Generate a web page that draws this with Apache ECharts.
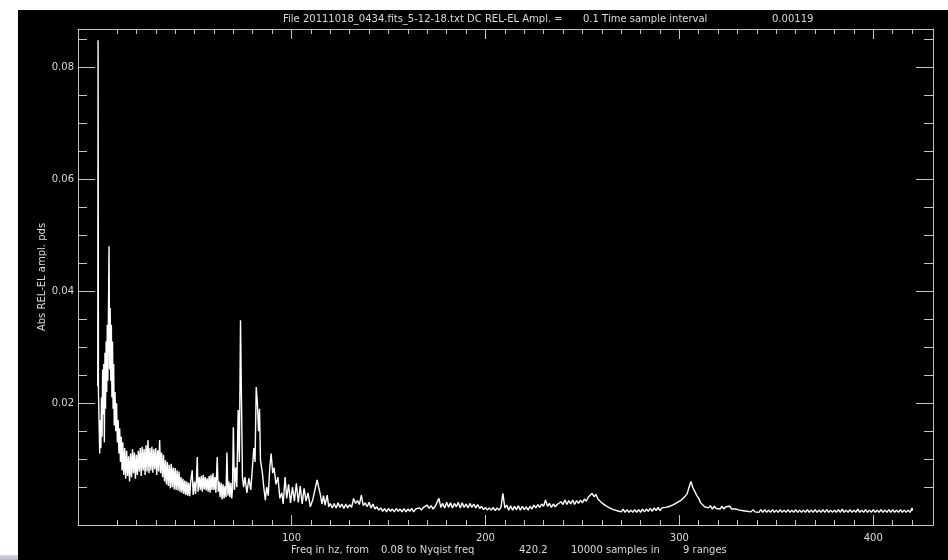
<!DOCTYPE html>
<html>
<head>
<meta charset="utf-8">
<script src="https://cdn.jsdelivr.net/npm/echarts@6/dist/echarts.min.js"></script>
<style>
  html, body { margin: 0; padding: 0; background: #ffffff; }
  #wrap { position: relative; width: 948px; height: 560px; overflow: hidden; background: #ffffff; }
  #panel { position: absolute; left: 18px; top: 10px; width: 930px; height: 550px; background: #000000; }
  #strip { position: absolute; left: 0; top: 555px; width: 18px; height: 5px; background: linear-gradient(#d4d4e2, #b8b8cc); }
  #chart { position: absolute; left: 0; top: 0; width: 948px; height: 560px; }
</style>
</head>
<body>
<div id="wrap">
  <div id="panel"></div>
  <div id="strip"></div>
  <div id="chart"></div>
</div>
<script>
// Amplitude spectrum, 0.08 Hz to the Nyquist frequency (420.2 Hz).
// Low band: the DC spike and the broad 6 Hz hump.
const freqLow = [0.08, 0.25, 0.45, 0.8, 1.1, 1.4, 1.7, 2.0, 2.3, 2.6, 2.9, 3.2, 3.5, 3.8, 4.1, 4.4, 4.7, 5.0, 5.3, 5.6,
  5.9, 6.2, 6.5, 6.8, 7.1, 7.4, 7.7, 8.0, 8.3, 8.6, 9.0, 9.4, 9.8, 10.2, 10.6, 11.0, 11.4, 11.8, 12.2, 12.6,
  13.0, 13.5, 14.0, 14.5];
const ampLow = [0.023, 0.0848, 0.022, 0.016, 0.011, 0.017, 0.012, 0.021, 0.014, 0.026, 0.018, 0.027, 0.013, 0.029, 0.019, 0.031, 0.022, 0.034, 0.024, 0.036,
  0.048, 0.026, 0.037, 0.024, 0.034, 0.021, 0.031, 0.019, 0.027, 0.016, 0.022, 0.015, 0.020, 0.013, 0.017, 0.011, 0.0155, 0.0095, 0.014, 0.008,
  0.013, 0.0072, 0.012, 0.0065];

// Mid band: noisy shelf out to 70 Hz, then resonance lines around 70-90 Hz.
const freqMid = [15, 15.5, 16, 16.5, 17, 17.5, 18, 18.5, 19, 19.5, 20, 20.5, 21, 21.5, 22, 22.5, 23, 23.5, 24, 24.5,
  25, 25.5, 26, 26.5, 27, 27.5, 28, 28.5, 29, 29.5, 30, 30.5, 31, 31.5, 32, 32.5, 33, 33.5, 34, 34.5,
  35, 35.5, 36, 36.5, 37, 37.5, 38, 38.5, 39, 39.5, 40, 40.5, 41, 41.5, 42, 42.5, 43, 43.5, 44, 44.5,
  45, 45.5, 46, 46.5, 47, 47.5, 48, 48.8, 49.3, 50, 50.5, 51, 51.4, 51.8, 52.5, 53, 53.5, 54, 54.5, 55,
  55.5, 56, 56.5, 57, 57.5, 58, 58.5, 59, 59.5, 60, 60.5, 61, 61.7, 62.2, 62.7, 63.2, 63.7, 64.2, 64.7, 65.2,
  65.7, 66.2, 66.7, 67.2, 67.7, 68.2, 68.7, 69.2, 69.6, 70, 70.6,
  71.2, 71.8, 72.5, 73.1, 73.7, 74.2, 74.7, 75.3, 76, 77, 78, 79, 80, 80.6, 81.2, 81.8, 82.4, 83, 83.5, 84,
  85, 85.7, 86.5, 87.2, 88, 88.8, 89.5, 90.3, 91, 92, 93, 94, 95, 95.7, 96.7, 97.5, 98.5, 99.5, 100.5, 101.5,
  102.5, 103.5, 104.5, 105.5, 106.5, 107.5, 108.5, 109.7, 111, 112, 113.2, 114, 114.8, 115.7, 116.5, 117.3, 118.4, 119.2, 120, 121,
  122, 123, 124, 125, 126, 127, 128, 129, 130, 131];
const ampMid = [0.0115, 0.007, 0.0105, 0.006, 0.011, 0.0068, 0.0118, 0.0075, 0.0112, 0.0065, 0.0108, 0.0072, 0.0115, 0.0078, 0.012, 0.007, 0.0122, 0.008, 0.0118, 0.0072,
  0.0125, 0.0078, 0.0134, 0.0075, 0.012, 0.008, 0.0122, 0.0076, 0.0118, 0.0082, 0.012, 0.0072, 0.0116, 0.0078, 0.0134, 0.0075, 0.0112, 0.0068, 0.0108, 0.006,
  0.0098, 0.0055, 0.0095, 0.0052, 0.009, 0.0048, 0.0092, 0.005, 0.0085, 0.0046, 0.0084, 0.0045, 0.008, 0.0044, 0.0078, 0.0042, 0.0068, 0.004, 0.0065, 0.0038,
  0.0062, 0.0036, 0.006, 0.0035, 0.0058, 0.0034, 0.006, 0.008, 0.0036, 0.006, 0.0038, 0.0065, 0.0104, 0.0042, 0.0068, 0.0045, 0.007, 0.0042, 0.0072, 0.0046,
  0.0068, 0.0044, 0.0066, 0.0042, 0.007, 0.004, 0.0072, 0.0045, 0.0075, 0.0045, 0.0068, 0.004, 0.0104, 0.0042, 0.006, 0.0032, 0.0058, 0.0028, 0.0055, 0.003,
  0.0052, 0.0032, 0.0112, 0.0035, 0.006, 0.0032, 0.0058, 0.003, 0.005, 0.0157, 0.0045,
  0.0085, 0.005, 0.0188, 0.0095, 0.0348, 0.0205, 0.0068, 0.005, 0.0068, 0.004, 0.0066, 0.0045, 0.0093, 0.012, 0.0095, 0.0229, 0.02, 0.015, 0.019, 0.0098,
  0.0075, 0.005, 0.0027, 0.005, 0.0035, 0.0085, 0.011, 0.0075, 0.0085, 0.0055, 0.0068, 0.003, 0.004, 0.002, 0.0068, 0.003, 0.0055, 0.0022, 0.005, 0.0025,
  0.0057, 0.0023, 0.0052, 0.002, 0.0048, 0.0025, 0.004, 0.0015, 0.0028, 0.0025, 0.0063, 0.005, 0.0038, 0.002, 0.0035, 0.0018, 0.0036, 0.0015, 0.0021, 0.0013,
  0.0021, 0.0013, 0.0022, 0.0014, 0.002, 0.0012, 0.002, 0.0013, 0.0019, 0.0014];

// High band: noise floor with humps near 255 Hz and 305 Hz.
const freqHigh = [132, 133, 134, 135, 136, 137, 138, 139, 140, 141,
  142, 143, 144, 145, 146, 147, 148, 149, 150, 151,
  152, 153, 154, 155, 156, 157, 158, 159, 160, 161,
  162, 163, 164, 165, 166, 167, 168, 169, 170, 171,
  172, 173, 174, 175, 176, 177, 178, 179, 180, 181,
  182, 183, 184, 185, 186, 187, 188, 189, 190, 191,
  192, 193, 194, 195, 196, 197, 198, 199, 200, 201,
  202, 203, 204, 205, 206, 207, 208, 209, 210, 211,
  212, 213, 214, 215, 216, 217, 218, 219, 220, 221,
  222, 223, 224, 225, 226, 227, 228, 229, 230, 231,
  232, 233, 234, 235, 236, 237, 238, 239, 240, 241,
  242, 243, 244, 245, 246, 247, 248, 249, 250, 251,
  252, 253, 254, 255, 256, 257, 258, 259, 260, 261,
  262, 263, 264, 265, 266, 267, 268, 269, 270, 271,
  272, 273, 274, 275, 276, 277, 278, 279, 280, 281,
  282, 283, 284, 285, 286, 287, 288, 289, 290, 291,
  292, 293, 294, 295, 296, 297, 298, 299, 300, 301,
  302, 303, 304, 305, 306, 307, 308, 309, 310, 311,
  312, 313, 314, 315, 316, 317, 318, 319, 320, 321,
  322, 323, 324, 325, 326, 327, 328, 329, 330, 331,
  332, 333, 334, 335, 336, 337, 338, 339, 340, 341,
  342, 343, 344, 345, 346, 347, 348, 349, 350, 351,
  352, 353, 354, 355, 356, 357, 358, 359, 360, 361,
  362, 363, 364, 365, 366, 367, 368, 369, 370, 371,
  372, 373, 374, 375, 376, 377, 378, 379, 380, 381,
  382, 383, 384, 385, 386, 387, 388, 389, 390, 391,
  392, 393, 394, 395, 396, 397, 398, 399, 400, 401,
  402, 403, 404, 405, 406, 407, 408, 409, 410, 411,
  412, 413, 414, 415, 416, 417, 418, 419, 420, 420.2];
const ampHigh = [0.003, 0.0021, 0.0026, 0.0019, 0.0036, 0.0017, 0.0022, 0.0015, 0.0023, 0.0013,
  0.002, 0.0011, 0.0015, 0.0009, 0.0013, 0.0007, 0.0012, 0.0006, 0.0012, 0.0007,
  0.0011, 0.0006, 0.0012, 0.0007, 0.0011, 0.0006, 0.0012, 0.0006, 0.0011, 0.0007,
  0.0012, 0.0006, 0.0011, 0.0008, 0.0013, 0.0009, 0.0014, 0.0011, 0.0018, 0.0012,
  0.0017, 0.0011, 0.0015, 0.0013, 0.003, 0.0014, 0.0021, 0.0013, 0.0023, 0.0014,
  0.0022, 0.0013, 0.0021, 0.0015, 0.0023, 0.0013, 0.0022, 0.0014, 0.002, 0.0013,
  0.0021, 0.0014, 0.002, 0.0013, 0.0019, 0.0012, 0.0016, 0.001, 0.0014, 0.0009,
  0.0013, 0.0009, 0.0014, 0.0008, 0.0013, 0.0009, 0.0014, 0.0039, 0.0013, 0.0018,
  0.0009, 0.0017, 0.0009, 0.0016, 0.001, 0.0017, 0.0009, 0.0016, 0.001, 0.0015,
  0.0009, 0.0016, 0.0011, 0.0018, 0.0013, 0.0019, 0.0014, 0.002, 0.0016, 0.0027,
  0.0016, 0.0021, 0.0014, 0.002, 0.0015, 0.0019, 0.0017, 0.0024, 0.0019, 0.0027,
  0.0019, 0.0026, 0.002, 0.0027, 0.0019, 0.0026, 0.0021, 0.0027, 0.0022, 0.0029,
  0.0025, 0.0032, 0.003, 0.0039, 0.0033, 0.0037, 0.0029, 0.0031, 0.0022, 0.0024,
  0.0017, 0.002, 0.0013, 0.0016, 0.001, 0.0013, 0.0008, 0.0011, 0.0006, 0.0011,
  0.0005, 0.001, 0.0005, 0.0009, 0.0005, 0.001, 0.0005, 0.001, 0.0005, 0.0011,
  0.0006, 0.0011, 0.0007, 0.0012, 0.0007, 0.0013, 0.0008, 0.0014, 0.0008, 0.0013,
  0.001, 0.0014, 0.0011, 0.0016, 0.0013, 0.0019, 0.0016, 0.0023, 0.002, 0.0027,
  0.0025, 0.0034, 0.0038, 0.005, 0.006, 0.0049, 0.0046, 0.0035, 0.003, 0.0022,
  0.0021, 0.0015, 0.0018, 0.0013, 0.0017, 0.0011, 0.0016, 0.0012, 0.0015, 0.0011,
  0.0016, 0.0011, 0.0015, 0.0012, 0.0016, 0.0011, 0.0014, 0.0011, 0.0013, 0.0009,
  0.0012, 0.0008, 0.0011, 0.0007, 0.001, 0.0006, 0.001, 0.0006, 0.0009, 0.0005,
  0.001, 0.0005, 0.001, 0.0005, 0.0009, 0.0005, 0.001, 0.0005, 0.0009, 0.0005,
  0.001, 0.0005, 0.0009, 0.0005, 0.001, 0.0005, 0.0009, 0.0005, 0.001, 0.0005,
  0.0009, 0.0005, 0.0009, 0.0005, 0.001, 0.0005, 0.0009, 0.0005, 0.001, 0.0005,
  0.0009, 0.0005, 0.001, 0.0005, 0.001, 0.0005, 0.0009, 0.0005, 0.0009, 0.0005,
  0.001, 0.0005, 0.0011, 0.0005, 0.0009, 0.0005, 0.001, 0.0005, 0.0009, 0.0005,
  0.0011, 0.0005, 0.0009, 0.0005, 0.001, 0.0005, 0.0009, 0.0005, 0.001, 0.0005,
  0.0009, 0.0005, 0.001, 0.0005, 0.0009, 0.0005, 0.001, 0.0005, 0.001, 0.0005,
  0.0009, 0.0005, 0.001, 0.0005, 0.0009, 0.0005, 0.0009, 0.0005, 0.0013, 0.0008];

// Axis ranges and tick marks
const xRange = [-10.1, 430.8];
const yRange = [-0.00175, 0.0868];
const xTickLabels = [100, 200, 300, 400];
const yTickLabels = [0.02, 0.04, 0.06, 0.08];
const xMinorTicks = [];
for (let v = 10; v <= 420; v += 10) if (v % 100 !== 0) xMinorTicks.push(v);
const yMinorTicks = [];
for (let i = 1; i <= 17; i++) if (i % 4 !== 0) yMinorTicks.push(i * 5 / 1000);

const titleParts = ['File 20111018_0434.fits_5-12-18.txt DC REL-EL Ampl. =', '0.1 Time sample interval', '0.00119'];
const xTitleParts = ['Freq in hz, from', '0.08 to Nyqist freq', '420.2', '10000 samples in', '9 ranges'];
const yTitle = 'Abs REL-EL ampl. pds';

const spectrum = []
  .concat(freqLow.map((f, i) => [f, ampLow[i]]))
  .concat(freqMid.map((f, i) => [f, ampMid[i]]))
  .concat(freqHigh.map((f, i) => [f, ampHigh[i]]));

const AXIS = '#c4c4c4';
const TEXT = '#dadada';
const FONT = 'DejaVu Sans';

function xAx(position, ticks, len, withLine, withLabels) {
  return {
    type: 'value', position, min: xRange[0], max: xRange[1],
    axisLine: { show: withLine, onZero: false, lineStyle: { color: AXIS, width: 1 } },
    axisTick: { show: true, inside: true, length: len, customValues: ticks, lineStyle: { color: AXIS, width: 1 } },
    axisLabel: withLabels
      ? { show: true, customValues: ticks, margin: 8, color: TEXT, fontSize: 10, fontFamily: FONT, formatter: v => String(v) }
      : { show: false },
    splitLine: { show: false }
  };
}
function yAx(position, ticks, len, withLine, withLabels) {
  return {
    type: 'value', position, min: yRange[0], max: yRange[1],
    axisLine: { show: withLine, onZero: false, lineStyle: { color: AXIS, width: 1 } },
    axisTick: { show: true, inside: true, length: len, customValues: ticks, lineStyle: { color: AXIS, width: 1 } },
    axisLabel: withLabels
      ? { show: true, customValues: ticks, margin: 4, color: TEXT, fontSize: 10, fontFamily: FONT, formatter: v => v.toFixed(2) }
      : { show: false },
    splitLine: { show: false }
  };
}

const textAt = (text, x, y) => ({
  type: 'text', x, y,
  style: { text, fill: TEXT, font: '10px "' + FONT + '"', textAlign: 'left', textVerticalAlign: 'middle' }
});

const chart = echarts.init(document.getElementById('chart'), null, { renderer: 'canvas' });
chart.setOption({
  backgroundColor: 'transparent',
  animation: false,
  grid: { left: 78, top: 29, right: 15, bottom: 35, containLabel: false },
  xAxis: [
    xAx('bottom', xTickLabels, 10, true, true),
    xAx('bottom', xMinorTicks, 5, false, false),
    xAx('top', xTickLabels, 10, true, false),
    xAx('top', xMinorTicks, 5, false, false)
  ],
  yAxis: [
    yAx('left', yTickLabels, 17, true, true),
    yAx('left', yMinorTicks, 9, false, false),
    yAx('right', yTickLabels, 17, true, false),
    yAx('right', yMinorTicks, 9, false, false)
  ],
  series: [{
    type: 'line',
    xAxisIndex: 0, yAxisIndex: 0,
    data: spectrum,
    showSymbol: false,
    symbol: 'none',
    lineStyle: { color: '#ffffff', width: 1.4 },
    clip: true
  }],
  graphic: [
    textAt(titleParts[0], 283, 19),
    textAt(titleParts[1], 583, 19),
    textAt(titleParts[2], 772, 19),
    textAt(xTitleParts[0], 291, 550),
    textAt(xTitleParts[1], 381, 550),
    textAt(xTitleParts[2], 519, 550),
    textAt(xTitleParts[3], 571, 550),
    textAt(xTitleParts[4], 683, 550),
    {
      type: 'text', x: 42, y: 277, rotation: Math.PI / 2,
      style: { text: yTitle, fill: TEXT, font: '10px "' + FONT + '"', textAlign: 'center', textVerticalAlign: 'middle' }
    }
  ]
});
</script>
</body>
</html>
